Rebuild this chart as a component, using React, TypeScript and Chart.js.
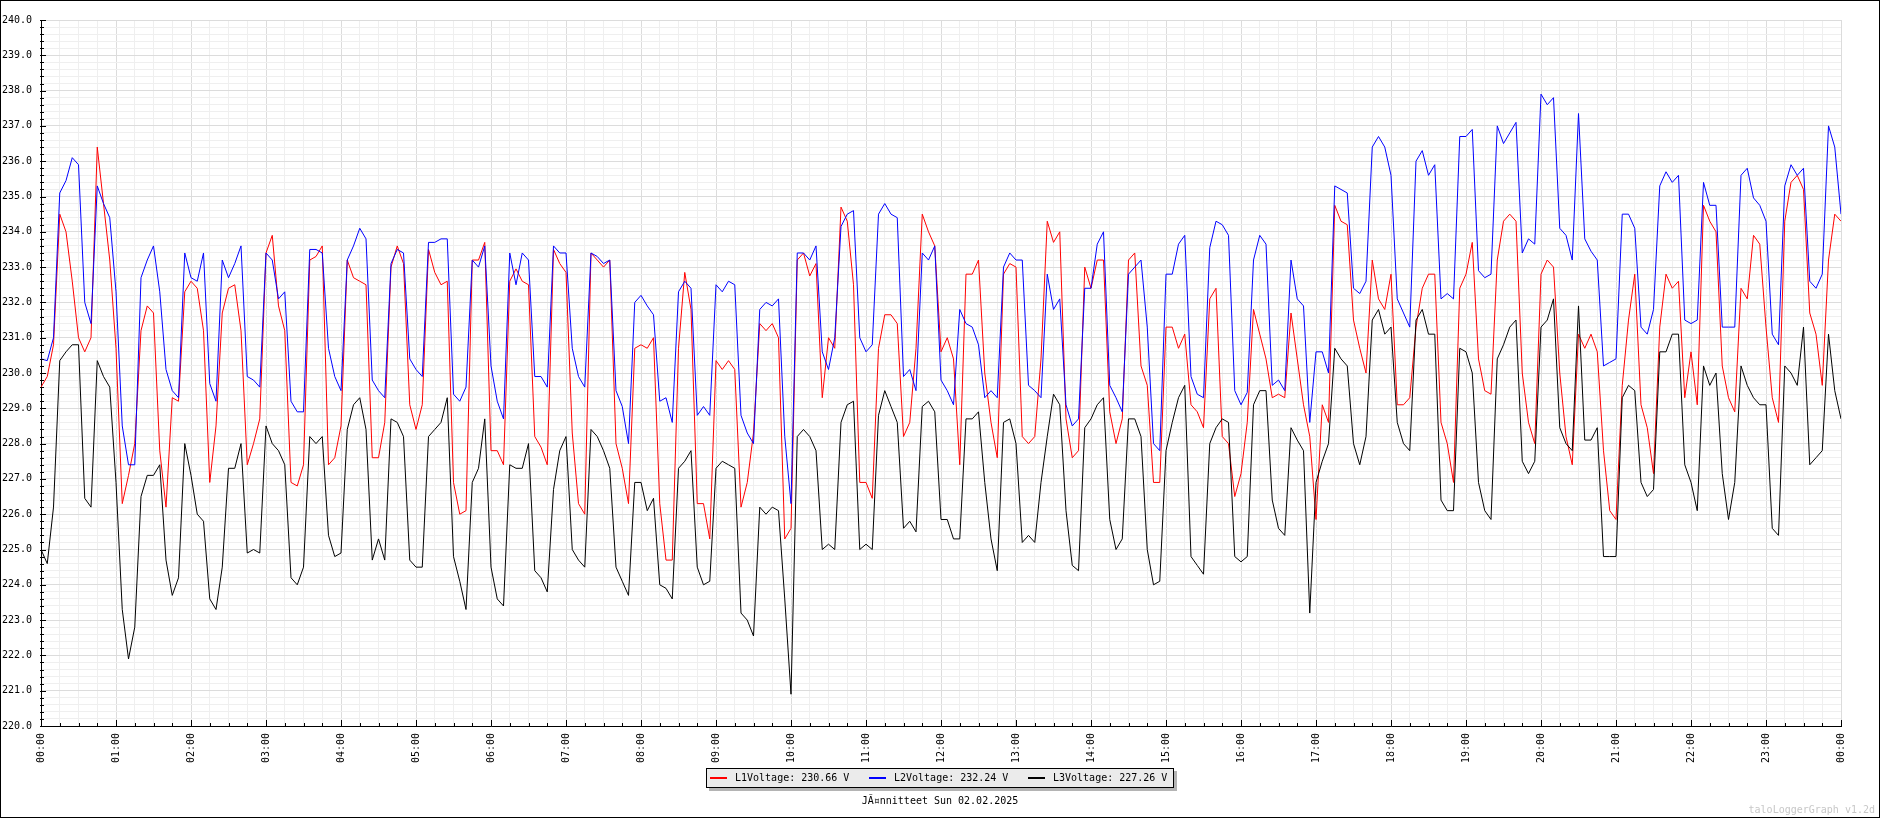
import { useEffect, useRef } from "react"
import { Chart, registerables } from "chart.js"

Chart.register(...registerables)

// one sample every 5 minutes, 00:00 .. 24:00
const l1Voltage = [
  229.6, 229.9, 230.8, 234.5, 234.0, 232.6, 231.0, 230.6, 231.0, 236.4, 234.8, 233.2,
  230.7, 226.3, 227.1, 228.0, 231.2, 231.9, 231.7, 227.8, 226.2, 229.3, 229.2, 232.3,
  232.6, 232.4, 231.2, 226.9, 228.5, 231.7, 232.4, 232.5, 231.2, 227.4, 228.0, 228.7,
  233.4, 233.9, 231.9, 231.2, 226.9, 226.8, 227.4, 233.2, 233.3, 233.6, 227.4, 227.6,
  228.5, 233.2, 232.7, 232.6, 232.5, 227.6, 227.6, 228.6, 233.0, 233.6, 233.1, 229.1,
  228.4, 229.1, 233.5, 232.85, 232.5, 232.6, 226.9, 226.0, 226.1, 233.2, 233.2, 233.7,
  227.8, 227.8, 227.4, 232.6, 232.95, 232.6, 232.5, 228.2, 227.9, 227.4, 233.5, 233.1,
  232.85, 228.3, 226.3, 226.0, 233.4, 233.2, 233.0, 233.2, 228.0, 227.3, 226.3, 230.7,
  230.8, 230.7, 231.0, 226.3, 224.7, 224.7, 230.7, 232.85, 231.8, 226.3, 226.3, 225.3,
  230.35, 230.1, 230.35, 230.1, 226.2, 226.9, 228.3, 231.4, 231.2, 231.4, 231.0, 225.3,
  225.6, 233.2, 233.4, 232.75, 233.1, 229.3, 231.0, 230.7, 234.7, 234.3, 232.5, 226.9,
  226.9, 226.45, 230.7, 231.65, 231.65, 231.4, 228.2, 228.6, 230.7, 234.5, 234.0, 233.6,
  230.6, 231.0, 230.4, 227.4, 232.8, 232.8, 233.2, 230.0, 228.6, 227.6, 232.8, 233.1,
  233.0, 228.2, 228.0, 228.2, 230.4, 234.3, 233.7, 234.0, 228.7, 227.6, 227.8, 233.0,
  232.4, 233.2, 233.2, 228.9, 228.0, 228.7, 233.2, 233.4, 230.2, 229.65, 226.9, 226.9,
  231.3, 231.3, 230.7, 231.1, 229.1, 228.9, 228.45, 232.1, 232.4, 228.2, 228.0, 226.5,
  227.15, 228.6, 231.8, 231.1, 230.4, 229.3, 229.4, 229.3, 231.7, 230.4, 229.1, 228.2,
  225.85, 229.1, 228.6, 234.75, 234.3, 234.2, 231.5, 230.7, 230.0, 233.2, 232.1, 231.8,
  232.8, 229.1, 229.1, 229.3, 231.3, 232.4, 232.8, 232.8, 228.6, 228.0, 226.9, 232.4,
  232.8, 233.7, 230.4, 229.5, 229.4, 233.2, 234.3, 234.5, 234.3, 230.0, 228.6, 228.0,
  232.8, 233.2, 233.0, 230.0, 228.2, 227.4, 231.1, 230.7, 231.1, 230.6, 227.8, 226.1,
  225.85, 229.65, 231.5, 232.8, 229.1, 228.45, 227.15, 231.3, 232.8, 232.4, 232.6, 229.3,
  230.6, 229.1, 234.75, 234.3, 234.0, 230.2, 229.3, 228.9, 232.4, 232.1, 233.9, 233.65,
  231.3, 229.3, 228.6, 234.3, 235.4, 235.6, 235.2, 231.7, 231.1, 229.65, 233.2, 234.5,
  234.3,
]

const l2Voltage = [
  230.4, 230.35, 231.0, 235.1, 235.45, 236.1, 235.9, 232.0, 231.4, 235.3, 234.8, 234.4,
  232.3, 228.5, 227.4, 227.4, 232.7, 233.2, 233.6, 232.3, 230.1, 229.5, 229.3, 233.4,
  232.7, 232.6, 233.4, 229.7, 229.2, 233.2, 232.7, 233.1, 233.6, 229.9, 229.8, 229.6,
  233.4, 233.2, 232.1, 232.3, 229.2, 228.9, 228.9, 233.5, 233.5, 233.4, 230.7, 229.9,
  229.5, 233.2, 233.6, 234.1, 233.8, 229.8, 229.5, 229.3, 233.1, 233.5, 233.4, 230.4,
  230.1, 229.9, 233.7, 233.7, 233.8, 233.8, 229.4, 229.2, 229.6, 233.2, 233.0, 233.6,
  230.2, 229.2, 228.7, 233.4, 232.5, 233.4, 233.2, 229.9, 229.9, 229.6, 233.6, 233.4,
  233.4, 230.7, 229.9, 229.6, 233.4, 233.3, 233.1, 233.2, 229.5, 229.05, 228.0, 232.0,
  232.2, 231.9, 231.65, 229.2, 229.3, 228.6, 232.3, 232.6, 232.4, 228.8, 229.05, 228.8,
  232.5, 232.3, 232.6, 232.5, 228.8, 228.3, 228.0, 231.8, 232.0, 231.9, 232.1, 228.2,
  226.3, 233.4, 233.4, 233.2, 233.6, 230.6, 230.1, 231.0, 234.15, 234.5, 234.6, 231.0,
  230.6, 230.8, 234.5, 234.8, 234.5, 234.4, 229.9, 230.1, 229.5, 233.4, 233.2, 233.6,
  229.8, 229.5, 229.1, 231.8, 231.4, 231.3, 230.8, 229.3, 229.5, 229.3, 233.0, 233.4,
  233.2, 233.2, 229.65, 229.5, 229.3, 232.8, 231.8, 232.1, 229.1, 228.5, 228.7, 232.4,
  232.4, 233.65, 234.0, 229.65, 229.3, 228.9, 232.8, 233.0, 233.2, 231.3, 228.0, 227.8,
  232.8, 232.8, 233.65, 233.9, 229.9, 229.4, 229.3, 233.55, 234.3, 234.2, 233.9, 229.5,
  229.1, 229.45, 233.2, 233.9, 233.65, 229.65, 229.8, 229.5, 233.2, 232.1, 231.9, 228.6,
  230.6, 230.6, 230.0, 235.3, 235.2, 235.1, 232.4, 232.25, 232.6, 236.4, 236.7, 236.4,
  235.6, 232.1, 231.7, 231.3, 236.0, 236.3, 235.6, 235.9, 232.1, 232.25, 232.1, 236.7,
  236.7, 236.9, 232.9, 232.7, 232.8, 237.0, 236.5, 236.8, 237.1, 233.4, 233.8, 233.65,
  237.9, 237.6, 237.8, 234.1, 233.9, 233.2, 237.35, 233.8, 233.45, 233.2, 230.2, 230.3,
  230.4, 234.5, 234.5, 234.1, 231.3, 231.1, 231.8, 235.3, 235.7, 235.4, 235.6, 231.5,
  231.4, 231.5, 235.4, 234.75, 234.75, 231.3, 231.3, 231.3, 235.6, 235.8, 234.96, 234.75,
  234.3, 231.1, 230.8, 235.3, 235.9, 235.6, 235.8, 232.6, 232.4, 232.8, 237.0, 236.4,
  234.5,
]

const l3Voltage = [
  225.0, 224.6, 226.2, 230.35, 230.6, 230.8, 230.8, 226.45, 226.2, 230.35, 229.9, 229.6,
  226.9, 223.3, 221.9, 222.8, 226.5, 227.1, 227.1, 227.4, 224.7, 223.7, 224.2, 228.0,
  227.1, 226.0, 225.8, 223.6, 223.3, 224.5, 227.3, 227.3, 228.0, 224.9, 225.0, 224.9,
  228.5, 228.0, 227.8, 227.4, 224.2, 224.0, 224.5, 228.2, 228.0, 228.2, 225.4, 224.8,
  224.9, 228.4, 229.1, 229.3, 228.4, 224.7, 225.3, 224.7, 228.7, 228.6, 228.2, 224.7,
  224.5, 224.5, 228.2, 228.4, 228.6, 229.3, 224.8, 224.1, 223.3, 226.9, 227.3, 228.7,
  224.5, 223.6, 223.4, 227.4, 227.3, 227.3, 228.0, 224.4, 224.2, 223.8, 226.7, 227.8,
  228.2, 225.0, 224.7, 224.5, 228.4, 228.2, 227.8, 227.3, 224.5, 224.1, 223.7, 226.9,
  226.9, 226.1, 226.45, 224.0, 223.9, 223.6, 227.3, 227.5, 227.8, 224.5, 224.0, 224.1,
  227.3, 227.5, 227.4, 227.3, 223.2, 223.0, 222.55, 226.2, 226.0, 226.2, 226.1, 223.6,
  220.9, 228.2, 228.4, 228.2, 227.8, 225.0, 225.15, 225.0, 228.6, 229.1, 229.2, 225.0,
  225.15, 225.0, 228.8, 229.5, 229.05, 228.6, 225.6, 225.8, 225.5, 229.05, 229.2, 228.9,
  225.85, 225.85, 225.3, 225.3, 228.7, 228.7, 228.9, 226.9, 225.3, 224.4, 228.6, 228.7,
  228.0, 225.2, 225.4, 225.2, 226.9, 228.2, 229.4, 229.1, 226.1, 224.55, 224.4, 228.45,
  228.7, 229.1, 229.3, 225.85, 225.0, 225.3, 228.7, 228.7, 228.2, 225.0, 224.0, 224.1,
  227.8, 228.6, 229.3, 229.65, 224.8, 224.55, 224.3, 228.0, 228.45, 228.7, 228.6, 224.8,
  224.65, 224.8, 229.1, 229.5, 229.5, 226.4, 225.6, 225.4, 228.45, 228.1, 227.8, 223.2,
  226.9, 227.5, 228.0, 230.7, 230.4, 230.2, 228.0, 227.4, 228.2, 231.5, 231.8, 231.1,
  231.3, 228.6, 228.0, 227.8, 231.5, 231.8, 231.1, 231.1, 226.4, 226.1, 226.1, 230.7,
  230.6, 230.0, 226.9, 226.1, 225.85, 230.4, 230.8, 231.3, 231.5, 227.5, 227.15, 227.5,
  231.3, 231.5, 232.1, 228.45, 228.0, 227.8, 231.9, 228.1, 228.1, 228.45, 224.8, 224.8,
  224.8, 229.3, 229.65, 229.5, 226.9, 226.5, 226.7, 230.6, 230.6, 231.1, 231.1, 227.4,
  226.9, 226.1, 230.2, 229.65, 230.0, 227.15, 225.85, 226.9, 230.2, 229.65, 229.3, 229.1,
  229.1, 225.6, 225.4, 230.2, 230.0, 229.65, 231.3, 227.4, 227.6, 227.8, 231.1, 229.5,
  228.7,
]

const hourLabels = [
  "00:00", "01:00", "02:00", "03:00", "04:00", "05:00", "06:00", "07:00", "08:00",
  "09:00", "10:00", "11:00", "12:00", "13:00", "14:00", "15:00", "16:00", "17:00",
  "18:00", "19:00", "20:00", "21:00", "22:00", "23:00", "00:00",
]

const seriesNames = ["L1Voltage: 230.66 V", "L2Voltage: 232.24 V", "L3Voltage: 227.26 V"]
const seriesColors = ["#ff0000", "#0000ff", "#000000"]

const chartTitle = "J\u00c3\u00a4nnitteet Sun 02.02.2025"
const watermark = "taloLoggerGraph v1.2d"

const SAMPLE_MINUTES = 5
const MONO = "'DejaVu Sans Mono', monospace"

const isWhole = (v: number) => Math.abs(v - Math.round(v)) < 1e-6

// small tick marks drawn inward from the axes
const innerTicks = {
  id: "innerTicks",
  afterDraw(chart: Chart) {
    const { ctx, chartArea } = chart
    const x = chart.scales.x
    const y = chart.scales.y
    ctx.save()
    ctx.strokeStyle = "#000"
    ctx.lineWidth = 1
    ctx.beginPath()
    y.ticks.forEach((t) => {
      const py = Math.round(y.getPixelForValue(t.value)) + 0.5
      ctx.moveTo(chartArea.left - 1, py)
      ctx.lineTo(chartArea.left + (isWhole(t.value) ? 5 : 3), py)
    })
    x.ticks.forEach((t) => {
      const px = Math.round(x.getPixelForValue(t.value)) + 0.5
      ctx.moveTo(px, chartArea.bottom)
      ctx.lineTo(px, chartArea.bottom - (t.value % 60 === 0 ? 6 : 3))
    })
    ctx.stroke()
    ctx.restore()
  },
}

function VoltageChart() {
  const chartRef = useRef<HTMLCanvasElement>(null)
  const chartInstance = useRef<Chart | null>(null)

  useEffect(() => {
    if (!chartRef.current) return
    if (chartInstance.current) chartInstance.current.destroy()

    const toPoints = (values: number[]) => values.map((v, i) => ({ x: i * SAMPLE_MINUTES, y: v }))
    const series = [l1Voltage, l2Voltage, l3Voltage]

    chartInstance.current = new Chart(chartRef.current, {
      type: "line",
      data: {
        datasets: series.map((values, i) => ({
          label: seriesNames[i],
          data: toPoints(values),
          borderColor: seriesColors[i],
          backgroundColor: seriesColors[i],
          borderWidth: 1,
          pointRadius: 0,
          tension: 0,
          order: 3 - i,
        })),
      },
      options: {
        responsive: false,
        animation: false,
        events: [],
        layout: { padding: { top: 20, right: 39, bottom: 0, left: 0 } },
        plugins: {
          legend: { display: false },
          title: { display: false },
          tooltip: { enabled: false },
        },
        scales: {
          x: {
            type: "linear",
            min: 0,
            max: 1440,
            afterFit: (scale) => {
              scale.height = 92
            },
            border: { display: true, color: "#000", width: 1 },
            grid: {
              drawTicks: false,
              color: (c) => (c.tick && c.tick.value % 60 === 0 ? "#dcdcdc" : "#efefef"),
            },
            ticks: {
              stepSize: 15,
              autoSkip: false,
              maxRotation: 90,
              minRotation: 90,
              padding: 7,
              color: "#000",
              font: { family: MONO, size: 10 },
              callback: (value) => {
                const v = Number(value)
                return v % 60 === 0 ? hourLabels[v / 60] : ""
              },
            },
          },
          y: {
            type: "linear",
            min: 220,
            max: 240,
            afterFit: (scale) => {
              scale.width = 41
            },
            border: { display: true, color: "#000", width: 1 },
            grid: {
              drawTicks: false,
              color: (c) => (c.tick && isWhole(c.tick.value) ? "#dcdcdc" : "#efefef"),
            },
            ticks: {
              stepSize: 0.2,
              autoSkip: false,
              padding: 9,
              color: "#000",
              font: { family: MONO, size: 10 },
              callback: (value) => {
                const v = Number(value)
                return isWhole(v) ? v.toFixed(1) : ""
              },
            },
          },
        },
      },
      plugins: [innerTicks],
    })

    return () => {
      if (chartInstance.current) {
        chartInstance.current.destroy()
        chartInstance.current = null
      }
    }
  }, [])

  return <canvas ref={chartRef} width={1880} height={818} style={{ position: "absolute", left: 0, top: 0 }} />
}

export default function App() {
  useEffect(() => {
    document.body.style.margin = "0"
  }, [])

  const text = { fontFamily: MONO, fontSize: 10, lineHeight: "12px", whiteSpace: "pre" as const }

  return (
    <div style={{ position: "relative", width: 1880, height: 818, background: "#fff", overflow: "hidden" }}>
      <VoltageChart />
      <div
        style={{
          position: "absolute",
          left: 706,
          top: 768,
          width: 468,
          height: 20,
          boxSizing: "border-box",
          border: "1px solid #000",
          background: "#ebebeb",
          boxShadow: "3px 3px 0 #b4b4b4",
        }}
      >
        {seriesNames.map((name, i) => (
          <div key={name}>
            <div
              style={{
                position: "absolute",
                left: 3 + 159 * i,
                top: 8,
                width: 17,
                height: 2,
                background: seriesColors[i],
              }}
            />
            <div style={{ ...text, position: "absolute", left: 28 + 159 * i, top: 3, color: "#000" }}>{name}</div>
          </div>
        ))}
      </div>
      <div style={{ ...text, position: "absolute", left: 0, width: 1880, top: 795, textAlign: "center", color: "#000" }}>
        {chartTitle}
      </div>
      <div style={{ ...text, position: "absolute", right: 5, top: 804, color: "#c8c8c8" }}>{watermark}</div>
      <div
        style={{
          position: "absolute",
          inset: 0,
          border: "1px solid #000",
          boxSizing: "border-box",
          pointerEvents: "none",
        }}
      />
    </div>
  )
}
